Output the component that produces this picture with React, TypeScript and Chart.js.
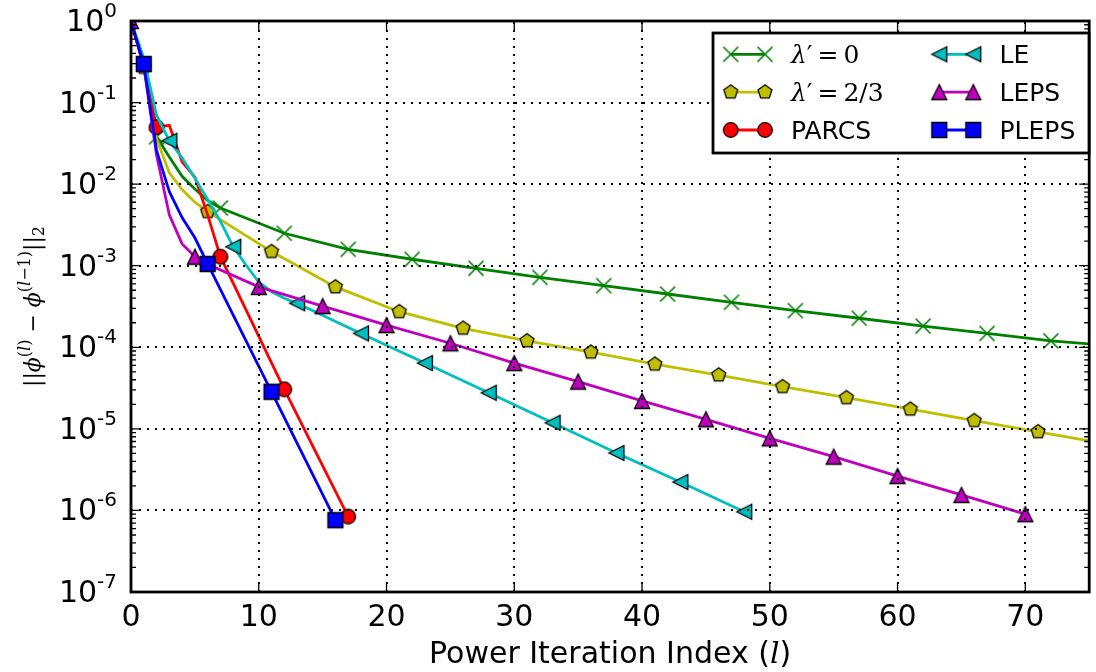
import { useEffect, useRef } from 'react';
import { Chart, registerables } from 'chart.js';

Chart.register(...registerables);

// ---------------- data ----------------
const X_MIN = 0;
const X_MAX = 75;
const Y_MIN = 1e-7;
const Y_MAX = 1;
const X_TICKS = [0, 10, 20, 30, 40, 50, 60, 70];
const X_TICK_LABELS = ['0', '10', '20', '30', '40', '50', '60', '70'];
const Y_EXPONENTS = [0, -1, -2, -3, -4, -5, -6, -7];
const Y_TICK_EXP_LABELS = ['0', '-1', '-2', '-3', '-4', '-5', '-6', '-7'];

const SERIES_LABELS = ["λ′=0", "λ′=2/3", 'PARCS', 'LE', 'LEPS', 'PLEPS'];

const LAMBDA0_X = [0, 1, 2, 3, 4, 5, 6, 7, 12, 17, 22, 27, 32, 37, 42, 47, 52, 57, 62, 67, 72, 75];
const LAMBDA0_Y = [1.0, 0.28, 0.038, 0.0215, 0.0125, 8.7e-3, 6.3e-3, 5.1e-3, 2.5e-3, 1.59e-3, 1.2e-3, 9.3e-4, 7.2e-4, 5.7e-4, 4.5e-4, 3.56e-4, 2.81e-4, 2.27e-4, 1.82e-4, 1.48e-4, 1.2e-4, 1.1e-4];

const LAMBDA23_X = [0, 1, 2, 3, 4, 5, 6, 11, 16, 21, 26, 31, 36, 41, 46, 51, 56, 61, 66, 71, 75];
const LAMBDA23_Y = [1.0, 0.27, 0.036, 0.0138, 8.6e-3, 6.0e-3, 4.6e-3, 1.49e-3, 5.5e-4, 2.73e-4, 1.71e-4, 1.2e-4, 8.7e-5, 6.2e-5, 4.57e-5, 3.29e-5, 2.41e-5, 1.74e-5, 1.26e-5, 9.2e-6, 7.1e-6];

const PARCS_X = [0, 1, 2, 3, 4, 5, 6, 7, 12, 17];
const PARCS_Y = [1.0, 0.28, 0.05, 0.0525, 0.0188, 0.0122, 4.2e-3, 1.29e-3, 3.05e-5, 8.4e-7];

const LE_X = [0, 1, 2, 3, 4, 5, 6, 7, 8, 9, 10, 11, 12, 13, 18, 23, 28, 33, 38, 43, 48];
const LE_Y = [1.0, 0.35, 0.07, 0.034, 0.021, 0.0118, 6.5e-3, 3.5e-3, 1.71e-3, 1.02e-3, 6.3e-4, 4.8e-4, 4.0e-4, 3.46e-4, 1.48e-4, 6.4e-5, 2.77e-5, 1.19e-5, 5.06e-6, 2.23e-6, 9.65e-7];

const LEPS_X = [0, 1, 2, 3, 4, 5, 6, 10, 15, 20, 25, 30, 35, 40, 45, 50, 55, 60, 65, 70];
const LEPS_Y = [1.0, 0.28, 0.0228, 4.2e-3, 1.85e-3, 1.29e-3, 1.04e-3, 5.5e-4, 3.2e-4, 1.87e-4, 1.12e-4, 6.4e-5, 3.8e-5, 2.2e-5, 1.31e-5, 7.65e-6, 4.56e-6, 2.64e-6, 1.55e-6, 9.0e-7];

const PLEPS_X = [0, 1, 2, 3, 4, 5, 6, 11, 16];
const PLEPS_Y = [1.0, 0.297, 0.026, 8.1e-3, 3.9e-3, 2.2e-3, 1.05e-3, 2.85e-5, 7.6e-7];

// ---------------- styles ----------------
const COLORS = ['#008000', '#bfbf00', '#ff0000', '#00bfbf', '#bf00bf', '#0000ff'];
const MARKER_KINDS = ['x', 'pentagon', 'circle', 'tri_left', 'tri_up', 'square'];
const MARK_FIRST = [2, 1, 2, 3, 0, 1];
const MARK_EVERY = 5;
const LINE_W = 2.8;

const SANS = '"DejaVu Sans", sans-serif';
const SERIF = '"DejaVu Serif", serif';

function makeMarker(kind: string, fill: string): HTMLCanvasElement {
  const c = document.createElement('canvas');
  c.width = 22;
  c.height = 22;
  const g = c.getContext('2d')!;
  g.translate(11, 11);
  g.lineWidth = 1.3;
  g.strokeStyle = '#000';
  g.fillStyle = fill;
  g.lineJoin = 'miter';
  g.beginPath();
  if (kind === 'x') {
    g.strokeStyle = fill;
    g.lineWidth = 1.6;
    g.moveTo(-7.5, -7.5);
    g.lineTo(7.5, 7.5);
    g.moveTo(-7.5, 7.5);
    g.lineTo(7.5, -7.5);
    g.stroke();
    return c;
  }
  if (kind === 'circle') g.arc(0, 0, 7.3, 0, Math.PI * 2);
  else if (kind === 'square') g.rect(-7.5, -7.5, 15, 15);
  else if (kind === 'tri_up') {
    g.moveTo(0, -7.5);
    g.lineTo(-7.5, 7.5);
    g.lineTo(7.5, 7.5);
    g.closePath();
  } else if (kind === 'tri_left') {
    g.moveTo(-7.5, 0);
    g.lineTo(7.5, -7.5);
    g.lineTo(7.5, 7.5);
    g.closePath();
  } else if (kind === 'pentagon') {
    for (let k = 0; k < 5; k++) {
      const a = -Math.PI / 2 + (k * 2 * Math.PI) / 5;
      const px = 7.3 * Math.cos(a);
      const py = 7.3 * Math.sin(a);
      if (k === 0) g.moveTo(px, py);
      else g.lineTo(px, py);
    }
    g.closePath();
  }
  g.fill();
  g.stroke();
  return c;
}

type Run = { t: string; f: string; dy?: number };

function runsWidth(ctx: CanvasRenderingContext2D, runs: Run[]) {
  let w = 0;
  for (const r of runs) {
    ctx.font = r.f;
    w += ctx.measureText(r.t).width;
  }
  return w;
}

function drawRuns(ctx: CanvasRenderingContext2D, runs: Run[], x: number, y: number, align: 'left' | 'center' | 'right') {
  const w = runsWidth(ctx, runs);
  let cx = align === 'left' ? x : align === 'center' ? x - w / 2 : x - w;
  ctx.textAlign = 'left';
  ctx.textBaseline = 'alphabetic';
  for (const r of runs) {
    ctx.font = r.f;
    ctx.fillText(r.t, cx, y + (r.dy || 0));
    cx += ctx.measureText(r.t).width;
  }
}

function legendRuns(i: number): Run[] {
  const M = `25px ${SERIF}`;
  const MI = `italic 25px ${SERIF}`;
  if (i === 0 || i === 1) {
    const val = SERIES_LABELS[i].split('=')[1];
    return [
      { t: 'λ', f: MI },
      { t: '′', f: M },
      { t: '\u2009=\u2009', f: M },
      { t: val, f: M },
    ];
  }
  return [{ t: SERIES_LABELS[i], f: `25px ${SANS}` }];
}

export default function App() {
  const ref = useRef<HTMLCanvasElement>(null);

  useEffect(() => {
    const canvas = ref.current!;
    const markerImgs = MARKER_KINDS.map((k, i) => makeMarker(k, COLORS[i]));
    const xsAll = [LAMBDA0_X, LAMBDA23_X, PARCS_X, LE_X, LEPS_X, PLEPS_X];
    const ysAll = [LAMBDA0_Y, LAMBDA23_Y, PARCS_Y, LE_Y, LEPS_Y, PLEPS_Y];

    const datasets = xsAll.map((xs, i) => ({
      label: SERIES_LABELS[i],
      data: xs.map((x, j) => ({ x, y: ysAll[i][j] })),
      borderColor: COLORS[i],
      backgroundColor: COLORS[i],
      borderWidth: LINE_W,
      fill: false,
      tension: 0,
      pointStyle: markerImgs[i],
      pointRadius: (c: any) => {
        const x = xs[c.dataIndex];
        return x >= MARK_FIRST[i] && (x - MARK_FIRST[i]) % MARK_EVERY === 0 ? 8 : 0;
      },
      pointHoverRadius: 0,
      clip: 0,
      order: 10 - i,
    }));

    const decor = {
      id: 'decor',
      afterDatasetsDraw(chart: any) {
        const ctx: CanvasRenderingContext2D = chart.ctx;
        const a = chart.chartArea;
        const sx = chart.scales.x;
        const sy = chart.scales.y;
        ctx.save();

        // grid (dotted, above data like the reference)
        ctx.strokeStyle = '#000';
        ctx.lineWidth = 2;
        ctx.setLineDash([2, 6]);
        for (const t of X_TICKS) {
          if (t <= X_MIN || t >= X_MAX) continue;
          const px = Math.round(sx.getPixelForValue(t));
          ctx.beginPath();
          ctx.moveTo(px, a.bottom);
          ctx.lineTo(px, a.top);
          ctx.stroke();
        }
        for (const e of Y_EXPONENTS) {
          const v = Math.pow(10, e);
          if (v <= Y_MIN || v >= Y_MAX) continue;
          const py = Math.round(sy.getPixelForValue(v));
          ctx.beginPath();
          ctx.moveTo(a.left, py);
          ctx.lineTo(a.right, py);
          ctx.stroke();
        }
        ctx.setLineDash([]);

        // ticks (inward)
        ctx.lineWidth = 1.3;
        ctx.beginPath();
        for (const t of X_TICKS) {
          const px = sx.getPixelForValue(t);
          ctx.moveTo(px, a.bottom);
          ctx.lineTo(px, a.bottom - 10);
          ctx.moveTo(px, a.top);
          ctx.lineTo(px, a.top + 10);
        }
        for (const e of Y_EXPONENTS) {
          const py = sy.getPixelForValue(Math.pow(10, e));
          ctx.moveTo(a.left, py);
          ctx.lineTo(a.left + 10, py);
          ctx.moveTo(a.right, py);
          ctx.lineTo(a.right - 10, py);
        }
        for (const e of Y_EXPONENTS) {
          if (e === 0) continue;
          for (let m = 2; m <= 9; m++) {
            const py = sy.getPixelForValue(m * Math.pow(10, e));
            ctx.moveTo(a.left, py);
            ctx.lineTo(a.left + 5, py);
            ctx.moveTo(a.right, py);
            ctx.lineTo(a.right - 5, py);
          }
        }
        ctx.stroke();

        // spines
        ctx.lineWidth = 2.8;
        ctx.strokeRect(a.left, a.top, a.right - a.left, a.bottom - a.top);

        // tick labels
        ctx.fillStyle = '#000';
        ctx.font = `30px ${SANS}`;
        ctx.textAlign = 'center';
        ctx.textBaseline = 'alphabetic';
        X_TICKS.forEach((t, i) => {
          ctx.fillText(X_TICK_LABELS[i], sx.getPixelForValue(t), 626);
        });
        Y_EXPONENTS.forEach((e, i) => {
          const py = sy.getPixelForValue(Math.pow(10, e));
          drawRuns(
            ctx,
            [
              { t: '10', f: `30px ${SANS}` },
              { t: Y_TICK_EXP_LABELS[i], f: `20px ${SANS}`, dy: -14 },
            ],
            117,
            py + 10,
            'right'
          );
        });

        // x axis title
        drawRuns(
          ctx,
          [
            { t: 'Power Iteration Index (', f: `30px ${SANS}` },
            { t: 'l', f: `italic 30px ${SERIF}` },
            { t: ')', f: `30px ${SANS}` },
          ],
          (a.left + a.right) / 2,
          663,
          'center'
        );

        // y axis title (rotated)
        ctx.save();
        ctx.translate(40, (a.top + a.bottom) / 2);
        ctx.rotate(-Math.PI / 2);
        const M = `22px ${SERIF}`;
        const MI = `italic 22px ${SERIF}`;
        const S = `16px ${SERIF}`;
        const SI = `italic 16px ${SERIF}`;
        drawRuns(
          ctx,
          [
            { t: '||', f: M },
            { t: 'ϕ', f: MI },
            { t: '(', f: S, dy: -10 },
            { t: 'l', f: SI, dy: -10 },
            { t: ')', f: S, dy: -10 },
            { t: ' − ', f: M },
            { t: 'ϕ', f: MI },
            { t: '(', f: S, dy: -10 },
            { t: 'l', f: SI, dy: -10 },
            { t: '−1)', f: S, dy: -10 },
            { t: '||', f: M },
            { t: '2', f: S, dy: 4 },
          ],
          0,
          0,
          'center'
        );
        ctx.restore();

        // legend
        const bx = 713, by = 33, bw = 376, bh = 120;
        ctx.fillStyle = '#fff';
        ctx.fillRect(bx, by, bw, bh);
        ctx.lineWidth = 2.8;
        ctx.strokeStyle = '#000';
        ctx.strokeRect(bx, by, bw, bh);
        const rowY = [54.3, 92.1, 130];
        const colM = [
          [730.7, 765],
          [939.3, 973.3],
        ];
        const colT = [791, 999.5];
        for (let i = 0; i < 6; i++) {
          const col = i < 3 ? 0 : 1;
          const row = i % 3;
          const y = rowY[row];
          const [m1, m2] = colM[col];
          ctx.strokeStyle = COLORS[i];
          ctx.lineWidth = LINE_W;
          ctx.beginPath();
          ctx.moveTo(m1, y);
          ctx.lineTo(m2, y);
          ctx.stroke();
          const img = markerImgs[i];
          ctx.drawImage(img, m1 - img.width / 2, y - img.height / 2);
          ctx.drawImage(img, m2 - img.width / 2, y - img.height / 2);
          ctx.fillStyle = '#000';
          drawRuns(ctx, legendRuns(i), colT[col], y + 8.5, 'left');
        }

        ctx.restore();
      },
    };

    const chart = new Chart(canvas, {
      type: 'line',
      data: { datasets: datasets as any },
      options: {
        animation: false,
        responsive: false,
        devicePixelRatio: 1,
        events: [],
        layout: { padding: { left: 131, top: 21, right: 2, bottom: 80 } },
        plugins: {
          legend: { display: false },
          tooltip: { enabled: false },
          title: { display: false },
        },
        scales: {
          x: {
            type: 'linear',
            min: X_MIN,
            max: X_MAX,
            grid: { display: false, drawTicks: false },
            border: { display: false },
            ticks: { display: false },
            afterFit: (s: any) => {
              s.height = 0;
            },
          },
          y: {
            type: 'logarithmic',
            min: Y_MIN,
            max: Y_MAX,
            grid: { display: false, drawTicks: false },
            border: { display: false },
            ticks: { display: false },
            afterFit: (s: any) => {
              s.width = 0;
            },
          },
        },
      },
      plugins: [decor],
    });

    return () => chart.destroy();
  }, []);

  return (
    <div
      style={{
        position: 'absolute',
        left: 0,
        top: 0,
        width: 1096,
        height: 672,
        overflow: 'hidden',
        background: '#fff',
      }}
    >
      <canvas ref={ref} width={1100} height={672} style={{ display: 'block', width: 1100, height: 672 }} />
    </div>
  );
}
